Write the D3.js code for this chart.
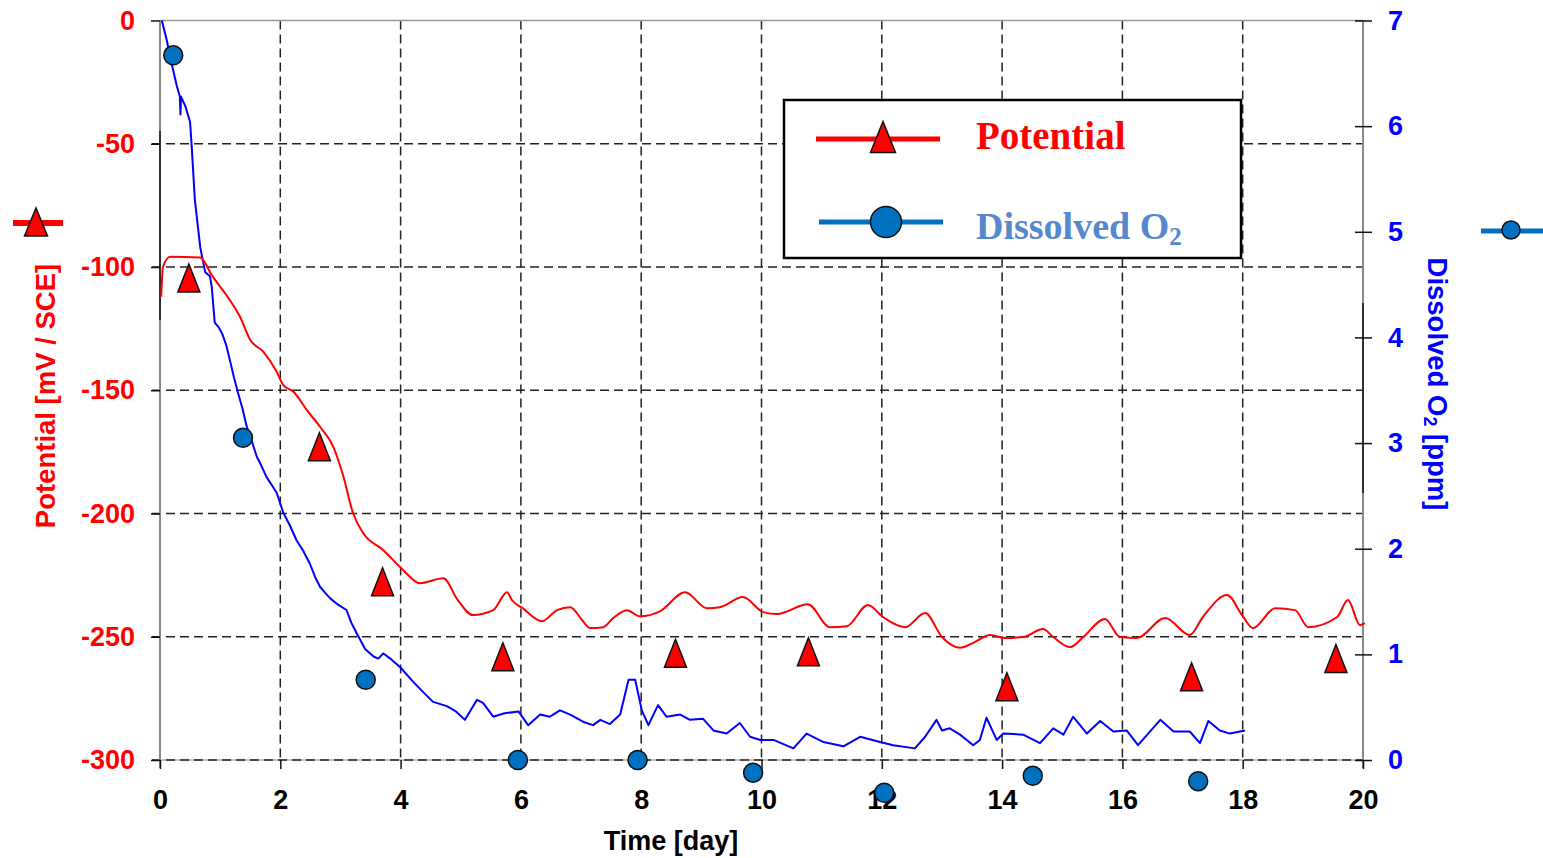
<!DOCTYPE html>
<html><head><meta charset="utf-8">
<script src="https://cdn.jsdelivr.net/npm/d3@7"></script>
<style>
body{margin:0;background:#fff}
svg{display:block}
text{font-family:"Liberation Sans",Arial,sans-serif;font-weight:bold}
</style>
</head><body>
<svg id="c" width="1543" height="858"></svg>
<script>
// ---------- data ----------
const potDays=[0.02,0.05,0.17,0.67,0.86,1.16,1.33,1.50,1.72,1.94,2.05,2.22,2.44,2.66,2.88,3.05,3.21,3.38,3.71,4.04,4.32,4.71,4.95,5.20,5.54,5.77,5.85,6.03,6.35,6.60,6.82,7.02,7.15,7.37,7.53,7.76,7.98,8.31,8.73,9.09,9.31,9.69,10.03,10.26,10.77,11.14,11.42,11.77,12.02,12.39,12.72,13.00,13.30,13.52,13.80,14.05,14.35,14.68,14.85,15.13,15.35,15.71,15.96,16.24,16.71,17.12,17.34,17.74,17.99,18.17,18.54,18.87,19.09,19.57,19.75,19.95,20.03];
const potMV=[-112.1,-99.9,-95.8,-96.1,-103.3,-113.4,-120.2,-129.6,-134.4,-142.5,-147.9,-150.6,-158.0,-164.8,-172.9,-185.1,-199.9,-208.0,-214.8,-222.9,-228.3,-226.3,-235.1,-241.2,-239.2,-231.9,-235.1,-238.4,-243.7,-239.2,-238.0,-243.3,-246.5,-246.1,-242.5,-239.2,-241.7,-239.7,-231.9,-238.4,-238.0,-233.9,-240.0,-240.8,-236.8,-246.1,-245.7,-237.1,-242.0,-246.1,-240.4,-250.1,-254.5,-252.5,-249.3,-250.5,-250.1,-246.9,-250.1,-254.2,-250.1,-242.8,-250.1,-250.5,-242.4,-249.3,-241.9,-233.1,-241.2,-246.5,-238.4,-239.2,-246.1,-242.0,-235.1,-245.3,-244.5];

const o2Days=[0.03,0.11,0.19,0.28,0.33,0.34,0.35,0.42,0.50,0.53,0.58,0.67,0.75,0.83,0.86,0.91,0.97,1.03,1.10,1.16,1.23,1.30,1.37,1.44,1.52,1.61,1.69,1.77,1.86,1.94,2.05,2.16,2.27,2.38,2.49,2.58,2.66,2.75,2.83,2.96,3.10,3.18,3.27,3.41,3.55,3.63,3.71,3.85,3.99,4.21,4.38,4.54,4.77,4.92,5.07,5.27,5.37,5.54,5.71,5.96,6.12,6.32,6.48,6.65,6.82,7.04,7.20,7.32,7.48,7.65,7.79,7.90,8.01,8.12,8.28,8.42,8.65,8.81,9.03,9.20,9.42,9.64,9.81,9.98,10.20,10.53,10.75,11.03,11.36,11.64,11.97,12.19,12.55,12.72,12.91,13.00,13.13,13.30,13.52,13.63,13.74,13.91,14.02,14.35,14.63,14.85,15.02,15.18,15.41,15.63,15.85,16.07,16.26,16.63,16.85,17.12,17.29,17.43,17.62,17.79,18.04];
const o2PPM=[7.00,6.82,6.60,6.38,6.28,6.11,6.28,6.19,6.04,5.78,5.30,4.85,4.62,4.58,4.48,4.14,4.10,4.04,3.93,3.79,3.62,3.47,3.33,3.16,3.03,2.87,2.78,2.68,2.60,2.53,2.34,2.22,2.08,1.98,1.86,1.73,1.64,1.58,1.53,1.47,1.42,1.30,1.20,1.05,0.98,0.96,1.01,0.95,0.88,0.74,0.64,0.55,0.51,0.46,0.38,0.57,0.54,0.41,0.44,0.46,0.33,0.43,0.41,0.47,0.43,0.36,0.33,0.38,0.34,0.43,0.76,0.76,0.47,0.33,0.52,0.41,0.43,0.38,0.39,0.28,0.25,0.35,0.22,0.19,0.19,0.11,0.25,0.17,0.13,0.22,0.17,0.14,0.11,0.22,0.38,0.28,0.30,0.24,0.14,0.19,0.40,0.19,0.25,0.24,0.16,0.30,0.24,0.41,0.25,0.37,0.27,0.28,0.14,0.38,0.27,0.27,0.16,0.37,0.28,0.25,0.28];

const triDays=[0.48,2.65,3.70,5.70,8.57,10.78,14.08,17.15,19.55];
const triMV=[-104.5,-172.9,-227.7,-258.1,-256.7,-256.1,-270.3,-266.2,-258.8];
const dotDays=[0.22,1.38,3.42,5.95,7.94,9.86,12.04,14.51,17.26];
const dotPPM=[6.67,3.05,0.76,0,0,-0.12,-0.31,-0.15,-0.20];

const xTicks=[0,2,4,6,8,10,12,14,16,18,20];
const yLTicks=[0,-50,-100,-150,-200,-250,-300];
const yRTicks=[0,1,2,3,4,5,6,7];

const legendLabels=["Potential","Dissolved O"];
const xTitle="Time [day]";
const yLTitle="Potential [mV / SCE]";
const yRTitle="Dissolved O";

// ---------- scales ----------
const L=160, R=1363, T=20.5, B=760;
const x=d3.scaleLinear().domain([0,20]).range([L,R]);
const yL=d3.scaleLinear().domain([-300,0]).range([B,T]);
const yR=d3.scaleLinear().domain([0,7]).range([B,T]);

const svg=d3.select("#c");
const RED="#ff0000", BLUE="#0000ff", DOT="#0070c0";
const fmt=d=>String(d);

// ---------- grid ----------
const grid=svg.append("g");
grid.append("line").attr("x1",L).attr("x2",R).attr("y1",B).attr("y2",B)
  .attr("stroke","#b0b0b0").attr("stroke-width",1.5);
grid.selectAll("line.h").data(yLTicks.filter(d=>d!==0)).join("line").attr("class","h")
  .attr("x1",152).attr("x2",R-1).attr("y1",d=>yL(d)).attr("y2",d=>yL(d))
  .attr("stroke","#222").attr("stroke-width",1.5).attr("stroke-dasharray","9,5");
grid.selectAll("line.v").data(xTicks.filter(d=>d!==0&&d!==20)).join("line").attr("class","v")
  .attr("x1",d=>x(d)).attr("x2",d=>x(d)).attr("y1",T).attr("y2",B)
  .attr("stroke","#222").attr("stroke-width",1.5).attr("stroke-dasharray","9,5");
grid.append("line").attr("x1",L).attr("x2",R).attr("y1",T).attr("y2",T)
  .attr("stroke","#999").attr("stroke-width",1.5);
grid.append("line").attr("x1",L).attr("x2",L).attr("y1",T).attr("y2",B+8).attr("stroke","#8a8a8a").attr("stroke-width",2);
grid.append("line").attr("x1",L).attr("x2",L).attr("y1",131).attr("y2",320).attr("stroke","#111").attr("stroke-width",1.5);
grid.append("line").attr("x1",R).attr("x2",R).attr("y1",T).attr("y2",B+8).attr("stroke","#8a8a8a").attr("stroke-width",2);
grid.append("line").attr("x1",R).attr("x2",R).attr("y1",303).attr("y2",493).attr("stroke","#111").attr("stroke-width",1.5);

// ---------- axes ----------
const fs=27;
const gL=svg.append("g").attr("transform",`translate(${L},0)`)
  .call(d3.axisLeft(yL).tickValues(yLTicks).tickFormat(fmt).tickSize(9).tickPadding(16));
gL.select(".domain").remove();
gL.selectAll("text").attr("fill",RED).style("font-size",fs+"px");
gL.selectAll("line").attr("stroke","#111").attr("stroke-width",1.5);

const gB=svg.append("g").attr("transform",`translate(0,${B})`)
  .call(d3.axisBottom(x).tickValues(xTicks).tickFormat(fmt).tickSize(9).tickPadding(21));
gB.select(".domain").remove();
gB.selectAll("text").attr("fill","#000").style("font-size",fs+"px");
gB.selectAll("line").attr("stroke","#111").attr("stroke-width",1.5);

const gR=svg.append("g").attr("transform",`translate(${R},0)`)
  .call(d3.axisRight(yR).tickValues(yRTicks).tickFormat(fmt).tickSize(9).tickPadding(16));
gR.select(".domain").remove();
gR.selectAll("text").attr("fill",BLUE).style("font-size",fs+"px");
gR.selectAll(".tick line").attr("x1",-8).attr("stroke","#111").attr("stroke-width",1.5);

// ---------- titles ----------
svg.append("text").attr("transform","translate(55,396) rotate(-90)")
  .attr("text-anchor","middle").attr("fill",RED).style("font-size","27.5px").text(yLTitle);
const rt=svg.append("text").attr("transform","translate(1428,384) rotate(90)")
  .attr("text-anchor","middle").attr("fill",BLUE).style("font-size","27.5px");
rt.append("tspan").text(yRTitle);
rt.append("tspan").attr("dy",4).style("font-size","18px").text("2");
rt.append("tspan").attr("dy",-4).text(" [ppm]");
svg.append("text").attr("x",671).attr("y",850).attr("text-anchor","middle")
  .attr("fill","#000").style("font-size",fs+"px").text(xTitle);

// ---------- lines ----------
const potData=d3.zip(potDays,potMV);
const o2Data=d3.zip(o2Days,o2PPM);
svg.append("path").datum(o2Data).attr("fill","none").attr("stroke",BLUE).attr("stroke-width",2)
  .attr("stroke-linejoin","round")
  .attr("d",d3.line().x(d=>x(d[0])).y(d=>yR(d[1])));
svg.append("path").datum(potData).attr("fill","none").attr("stroke",RED).attr("stroke-width",2)
  .attr("stroke-linejoin","round")
  .attr("d",d3.line().x(d=>x(d[0])).y(d=>yL(d[1])).curve(d3.curveMonotoneX));

// ---------- markers ----------
function tri(cx,cy,w,h){return `M${cx},${cy-h/2}L${cx+w/2},${cy+h/2}L${cx-w/2},${cy+h/2}Z`;}
svg.append("g").selectAll("path").data(d3.zip(triDays,triMV)).join("path")
  .attr("d",d=>tri(x(d[0]),yL(d[1]),22,28)).attr("fill",RED).attr("stroke","#111").attr("stroke-width",1.5);
svg.append("g").selectAll("circle").data(d3.zip(dotDays,dotPPM)).join("circle")
  .attr("cx",d=>x(d[0])).attr("cy",d=>yR(d[1])).attr("r",9.5)
  .attr("fill",DOT).attr("stroke","#111").attr("stroke-width",1.5);

// ---------- axis-title series glyphs ----------
svg.append("line").attr("x1",13).attr("x2",63).attr("y1",223).attr("y2",223).attr("stroke",RED).attr("stroke-width",6);
svg.append("path").attr("d",tri(36,222,23,28)).attr("fill",RED).attr("stroke","#111").attr("stroke-width",1.5);
svg.append("line").attr("x1",1481).attr("x2",1543).attr("y1",231).attr("y2",231).attr("stroke",DOT).attr("stroke-width",5);
svg.append("circle").attr("cx",1511).attr("cy",230).attr("r",9).attr("fill",DOT).attr("stroke","#111").attr("stroke-width",1.5);

// ---------- legend ----------
const lg=svg.append("g");
lg.append("rect").attr("x",784).attr("y",100).attr("width",457).attr("height",158)
  .attr("fill","#fff").attr("stroke","#000").attr("stroke-width",2.5);
lg.append("line").attr("x1",816).attr("x2",940).attr("y1",139).attr("y2",139).attr("stroke",RED).attr("stroke-width",5);
lg.append("path").attr("d",tri(883,137,25,31)).attr("fill",RED).attr("stroke","#111").attr("stroke-width",1.5);
lg.append("line").attr("x1",819).attr("x2",943).attr("y1",222).attr("y2",222).attr("stroke",DOT).attr("stroke-width",5);
lg.append("circle").attr("cx",886).attr("cy",222).attr("r",15.5).attr("fill",DOT).attr("stroke","#111").attr("stroke-width",1.5);
lg.append("text").attr("x",976).attr("y",149).attr("fill",RED)
  .style("font-family","'Liberation Serif','Times New Roman',serif").style("font-size","39px").text(legendLabels[0]);
const t2=lg.append("text").attr("x",976).attr("y",239).attr("fill","#5588cc")
  .style("font-family","'Liberation Serif','Times New Roman',serif").style("font-size","38px");
t2.append("tspan").text(legendLabels[1]);
t2.append("tspan").attr("dy",6).style("font-size","25px").text("2");
</script>
</body></html>
